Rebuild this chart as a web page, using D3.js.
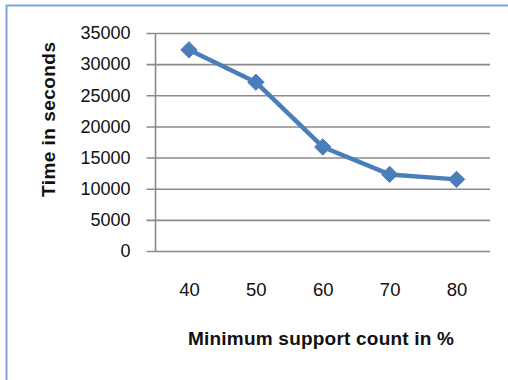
<!DOCTYPE html>
<html>
<head>
<meta charset="utf-8">
<script src="https://cdn.jsdelivr.net/npm/d3@7"></script>
<style>
  html, body { margin: 0; padding: 0; background: #fff; }
  svg { display: block; }
  text { font-family: "Liberation Sans", Arial, sans-serif; fill: #111; }
</style>
</head>
<body>
<svg id="chart" width="508" height="380"></svg>
<script>
// Run time versus minimum support threshold
const supportLevels = ["40", "50", "60", "70", "80"];
const timeSeconds = [32300, 27100, 16700, 12300, 11500];
const yTickValues = [0, 5000, 10000, 15000, 20000, 25000, 30000, 35000];

const svg = d3.select("#chart");
const W = 508, H = 380;
const plot = { left: 155.5, right: 490, top: 33, bottom: 251 };

// outer frame (top and left edges show inside the window)
svg.append("rect")
  .attr("x", 6.5).attr("y", 5.5)
  .attr("width", W + 10).attr("height", H + 10)
  .attr("fill", "#fff")
  .attr("stroke", "#7ea4dc").attr("stroke-width", 2);

const x = d3.scalePoint().domain(supportLevels)
  .range([plot.left, plot.right]).padding(0.5);
const y = d3.scaleLinear().domain([0, 35000]).range([plot.bottom, plot.top]);

// horizontal gridlines with left tick stubs
const yAxis = d3.axisLeft(y).tickValues(yTickValues)
  .tickSize(-(plot.right - plot.left)).tickPadding(25).tickFormat(d3.format("d"));
const gy = svg.append("g").attr("transform", `translate(${plot.left},0)`).call(yAxis);
gy.select(".domain").remove();
gy.selectAll(".tick line")
  .attr("x1", -9)
  .attr("stroke", "#8a8a8a").attr("stroke-width", 1.6);
gy.selectAll(".tick text")
  .attr("font-size", 18).attr("fill", "#111");

// vertical axis line
svg.append("line")
  .attr("x1", plot.left).attr("x2", plot.left)
  .attr("y1", plot.top).attr("y2", plot.bottom)
  .attr("stroke", "#8a8a8a").attr("stroke-width", 1.6);

// category labels
const xAxis = d3.axisBottom(x).tickSize(0).tickPadding(32);
const gx = svg.append("g").attr("transform", `translate(0,${plot.bottom})`).call(xAxis);
gx.select(".domain").remove();
gx.selectAll(".tick text").attr("font-size", 18.5).attr("fill", "#111");

// series line
const pts = supportLevels.map((c, i) => [x(c), y(timeSeconds[i])]);
svg.append("path")
  .attr("d", d3.line()(pts))
  .attr("fill", "none")
  .attr("stroke", "#4a7ebb").attr("stroke-width", 4.5)
  .attr("stroke-linejoin", "round");

// diamond markers
const diamond = d3.symbol().type(d3.symbolDiamond2).size(170);
svg.selectAll(".marker").data(pts).join("path")
  .attr("class", "marker")
  .attr("transform", d => `translate(${d[0]},${d[1]})`)
  .attr("d", diamond)
  .attr("fill", "#4a7ebb").attr("stroke", "#4a7ebb").attr("stroke-width", 1);

// axis titles
svg.append("text")
  .attr("x", 321).attr("y", 345)
  .attr("text-anchor", "middle")
  .attr("font-size", 19).attr("font-weight", "bold")
  .attr("textLength", 266).attr("lengthAdjust", "spacing")
  .text("Minimum support count in %");

svg.append("text")
  .attr("transform", "translate(55,119.5) rotate(-90)")
  .attr("text-anchor", "middle")
  .attr("font-size", 19).attr("font-weight", "bold")
  .attr("textLength", 155).attr("lengthAdjust", "spacing")
  .text("Time in seconds");
</script>
</body>
</html>
